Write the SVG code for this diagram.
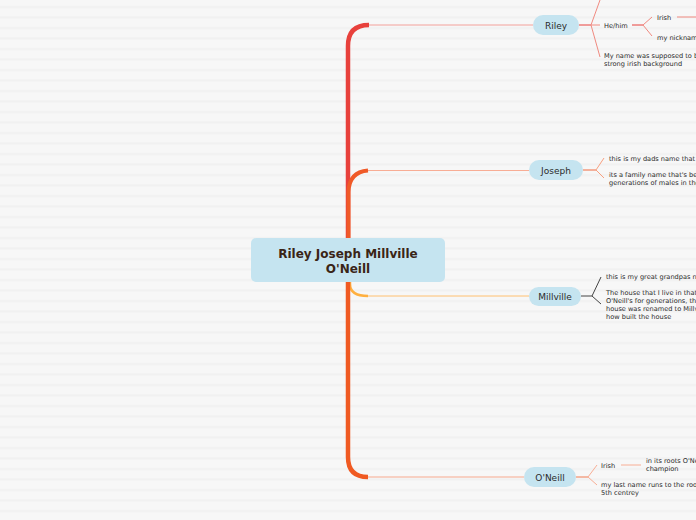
<svg xmlns="http://www.w3.org/2000/svg" width="696" height="520" viewBox="0 0 696 520">
<defs>
<pattern id="stripes" x="0" y="0" width="696" height="10.5" patternUnits="userSpaceOnUse">
<rect width="696" height="10.5" fill="#f7f7f7"/>
<rect y="6" width="696" height="2" fill="#f1f1f1"/>
</pattern>
<style>
.node{fill:#c5e4f0}
.t{font-family:"DejaVu Sans",Verdana,sans-serif;fill:#2b2b2b}
.s{font-size:6.6px}
.m{font-size:9px;text-anchor:middle}
.c{font-size:12px;font-weight:bold;text-anchor:middle;fill:#3a2516}
.ln{fill:none}
</style>
</defs>
<rect width="696" height="520" fill="url(#stripes)"/>
<g id="connectors">
<path class="ln" d="M348,240 V46 Q348,25 369,25" stroke="#e8413c" stroke-width="4.5"/>
<path class="ln" d="M369,25 H533" stroke="#f3a09a" stroke-width="1"/>
<path class="ln" d="M348.5,240 V192 Q349,172 368,170.5" stroke="#f05a28" stroke-width="4"/>
<path class="ln" d="M368,170.5 H529" stroke="#f8ad95" stroke-width="1"/>
<path class="ln" d="M350,280 V284 Q350,296 368,296" stroke="#ffb040" stroke-width="2.5"/>
<path class="ln" d="M368,296 H529" stroke="#ffc070" stroke-width="1"/>
<path class="ln" d="M348,280 V457 Q348,477 368,477" stroke="#f05a22" stroke-width="4.5"/>
<path class="ln" d="M368,477 H524" stroke="#f7a98e" stroke-width="1"/>
<g stroke="#f08a80" stroke-width="1" fill="none">
<path d="M579,25 H591" stroke="#e8413c"/>
<path d="M591,25 L600,0"/>
<path d="M591,25 H600"/>
<path d="M591,25 L600,57"/>
<path d="M632,25 H643" stroke="#e8413c"/>
<path d="M643,25 L652,17"/>
<path d="M643,25 L652,36"/>
<path d="M677,17 H696"/>
</g>
<g stroke="#f8a080" stroke-width="1" fill="none">
<path d="M583,170 H596" stroke="#f06a40"/>
<path d="M596,170 L604,158"/>
<path d="M596,170 L604,178"/>
</g>
<g stroke="#444" stroke-width="1" fill="none">
<path d="M581,296 H592"/>
<path d="M592,296 L601,277"/>
<path d="M592,296 L601,304"/>
</g>
<g stroke="#f8ae95" stroke-width="1" fill="none">
<path d="M576,477 H588" stroke="#f07a50"/>
<path d="M588,477 L597,465"/>
<path d="M588,477 L597,485"/>
<path d="M621,465 H641"/>
</g>
</g>
<g id="center">
<rect class="node" x="251" y="238" width="194" height="44" rx="5"/>
<text class="t c" x="348" y="258">Riley Joseph Millville</text>
<text class="t c" x="348" y="273">O'Neill</text>
</g>
<g id="riley">
<rect class="node" x="533" y="15" width="46" height="20" rx="10"/>
<text class="t m" x="556" y="29">Riley</text>
</g>
<g id="riley-hehim"><text class="t s" x="604" y="28">He/him</text></g>
<g id="riley-irish"><text class="t s" x="657" y="20">Irish</text></g>
<g id="riley-nickname"><text class="t s" x="657" y="40">my nickname</text></g>
<g id="riley-supposed"><text class="t s" x="604" y="58">My name was supposed to be</text><text class="t s" x="604" y="66">strong irish background</text></g>
<g id="joseph">
<rect class="node" x="529" y="160" width="54" height="20" rx="10"/>
<text class="t m" x="556" y="174">Joseph</text>
</g>
<g id="joseph-dads"><text class="t s" x="609" y="161">this is my dads name that</text></g>
<g id="joseph-family"><text class="t s" x="609" y="177">its a family name that's bee</text><text class="t s" x="609" y="185">generations of males in the</text></g>
<g id="millville">
<rect class="node" x="529" y="287" width="52" height="19" rx="9.5"/>
<text class="t m" x="555" y="300">Millville</text>
</g>
<g id="millville-grandpa"><text class="t s" x="606" y="279">this is my great grandpas na</text></g>
<g id="millville-house"><text class="t s" x="606" y="295">The house that I live in that</text><text class="t s" x="606" y="303">O'Neill's for generations, the</text><text class="t s" x="606" y="311">house was renamed to Millvi</text><text class="t s" x="606" y="319">how built the house</text></g>
<g id="oneill">
<rect class="node" x="524" y="467" width="52" height="20" rx="10"/>
<text class="t m" x="550" y="481">O'Neill</text>
</g>
<g id="oneill-irish"><text class="t s" x="601" y="468">Irish</text></g>
<g id="oneill-roots"><text class="t s" x="646" y="463">in its roots O'Ne</text><text class="t s" x="646" y="471">champion</text></g>
<g id="oneill-last"><text class="t s" x="601" y="487">my last name runs to the roo</text><text class="t s" x="601" y="495">5th centrey</text></g>
</svg>
